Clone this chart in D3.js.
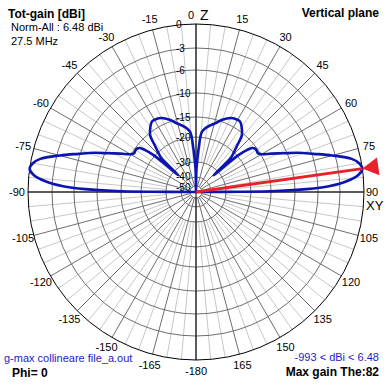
<!DOCTYPE html>
<html><head><meta charset="utf-8">
<script src="https://cdn.jsdelivr.net/npm/d3@7"></script>
<style>
body{margin:0;background:#fff}
svg{display:block}
text{font-family:"Liberation Sans",Arial,sans-serif}
</style>
</head><body>
<script>
// ---- data ----
const ringLevels = [0, -3, -6, -10, -15, -20, -30, -40, -50];
const ringLabels = ["0", "-3", "-6", "-10", "-15", "-20", "-30", "-40", "-50"];
const angleTicks = [0, 15, 30, 45, 60, 75, 90, 105, 120, 135, 150, 165, 180, -165, -150, -135, -120, -105, -90, -75, -60, -45, -30, -15];
const angleTickLabels = ["0", "15", "30", "45", "60", "75", "90", "105", "120", "135", "150", "165", "-180", "-165", "-150", "-135", "-120", "-105", "-90", "-75", "-60", "-45", "-30", "-15"];
// pattern (theta from zenith, deg) and normalized gain (dB), half plane; mirrored for negative theta
const patternTheta = [0, 1, 2, 3.5, 5.7, 10, 15.7, 20, 25, 29, 32, 35.5, 38.9, 41.6, 44, 45.6, 46.5, 47.7, 49.1, 50.5, 52, 54, 56, 58, 60, 63, 66, 69, 72, 75, 78, 80, 82, 84, 86, 87.5, 88.5, 89.3, 89.7, 90];
const patternGain = [-60, -36, -30, -24.4, -18.6, -17.2, -15.9, -14.6, -13.6, -13.3, -13.3, -14.2, -15.5, -18.3, -20.5, -22.5, -34, -28, -19.6, -17.3, -15.9, -15.4, -15.4, -15.5, -14.9, -13.0, -10.8, -8.2, -5.8, -3.4, -1.1, -0.3, 0, -0.6, -2.2, -4.5, -8, -14, -24, -60];
const maxTheta = 82;
const titleLines = ["Tot-gain [dBi]", "Norm-All : 6.48 dBi", "27.5 MHz"];
const planeLabel = "Vertical plane";
const fileLabel = "g-max collineare file_a.out";
const phiLabel = "Phi= 0";
const rangeLabel = "-993 < dBi < 6.48";
const maxLabel = "Max gain The:82";

// ---- layout ----
const W = 389, H = 389, cx = 196, cy = 192, R = 168;
const svg = d3.select("body").append("svg").attr("width", W).attr("height", H);

const r = d3.scaleLinear()
  .domain([-60, -50, -40, -30, -20, -15, -10, -6, -3, 0])
  .range([0, 6, 15, 30, 55, 75, 99, 122, 144, R])
  .clamp(true);
const rad = d => d * Math.PI / 180;
const px = (a, rr) => cx + rr * Math.sin(rad(a));
const py = (a, rr) => cy - rr * Math.cos(rad(a));

const g = svg.append("g");

// spokes every 5 deg
const spokes = d3.range(0, 360, 5);
g.selectAll("line.spoke").data(spokes).join("line")
  .attr("x1", d => px(d, d % 15 === 0 ? r(-50) : r(-30)))
  .attr("y1", d => py(d, d % 15 === 0 ? r(-50) : r(-30)))
  .attr("x2", d => px(d, R)).attr("y2", d => py(d, R))
  .attr("stroke", d => d % 15 === 0 ? "#6e6e6e" : "#c8c8c8")
  .attr("stroke-width", 1);

// rings
g.selectAll("circle.ring").data(ringLevels.slice(1)).join("circle")
  .attr("cx", cx).attr("cy", cy).attr("r", d => r(d))
  .attr("fill", "none").attr("stroke", "#6e6e6e").attr("stroke-width", 1);
g.append("circle").attr("cx", cx).attr("cy", cy).attr("r", R)
  .attr("fill", "none").attr("stroke", "#000").attr("stroke-width", 1);

// axes
g.append("line").attr("x1", cx).attr("y1", cy - R).attr("x2", cx).attr("y2", cy + R).attr("stroke", "#000");
g.append("line").attr("x1", cx - R).attr("y1", cy).attr("x2", cx + R).attr("y2", cy).attr("stroke", "#000");

// ring labels
g.selectAll("text.rl").data(ringLevels).join("text")
  .attr("x", 176).attr("y", d => cy - r(d) + (d <= -50 ? 5 : d <= -40 ? 2.5 : 4))
  .attr("font-size", 10).text((d, i) => ringLabels[i]);

// angle labels
angleTicks.forEach((a, i) => {
  let t;
  if (a === 0) {
    t = g.append("text").attr("x", 194).attr("y", 19).attr("text-anchor", "end");
  } else if (a === 90) {
    t = g.append("text").attr("x", 366).attr("y", 196);
  } else {
    t = g.append("text").attr("x", px(a, R + 11)).attr("y", py(a, R + 11))
      .attr("text-anchor", "middle").attr("dominant-baseline", "central");
  }
  t.attr("font-size", 11).text(angleTickLabels[i]);
});
g.append("text").attr("x", 200).attr("y", 20).attr("font-size", 14).text("Z");
g.append("text").attr("x", 366).attr("y", 210).attr("font-size", 13).text("XY");

// pattern
const pts = patternTheta.map((t, i) => ({t: -t, v: patternGain[i]})).reverse()
  .concat(patternTheta.map((t, i) => ({t: t, v: patternGain[i]})));
const line = d3.lineRadial().angle(d => rad(d.t)).radius(d => r(d.v)).curve(d3.curveCatmullRom.alpha(0.5));
g.append("path").attr("transform", `translate(${cx},${cy})`).attr("d", line(pts))
  .attr("fill", "none").attr("stroke", "#0c14b4").attr("stroke-width", 2.6).attr("stroke-linejoin", "round");

// max gain marker
g.append("line").attr("x1", cx).attr("y1", cy).attr("x2", px(maxTheta, R)).attr("y2", py(maxTheta, R))
  .attr("stroke", "#e8202a").attr("stroke-width", 3);
g.append("path")
  .attr("transform", `translate(${px(maxTheta, R)},${py(maxTheta, R)}) rotate(${maxTheta - 90})`)
  .attr("d", "M0,0 L16,-9 L16,9 Z").attr("fill", "#e8202a");

// texts
svg.append("text").attr("x", 8).attr("y", 18).attr("font-size", 12).attr("font-weight", "bold").text(titleLines[0]);
svg.append("text").attr("x", 11).attr("y", 31).attr("font-size", 11).text(titleLines[1]);
svg.append("text").attr("x", 11).attr("y", 45).attr("font-size", 11).text(titleLines[2]);
svg.append("text").attr("x", 379).attr("y", 17).attr("text-anchor", "end").attr("font-size", 12).attr("font-weight", "bold").text(planeLabel);
svg.append("text").attr("x", 4).attr("y", 362).attr("font-size", 11).attr("fill", "#1c1cc8").text(fileLabel);
svg.append("text").attr("x", 12).attr("y", 377).attr("font-size", 12).attr("font-weight", "bold").text(phiLabel);
svg.append("text").attr("x", 379).attr("y", 361).attr("text-anchor", "end").attr("font-size", 11).attr("fill", "#1c1cc8").text(rangeLabel);
svg.append("text").attr("x", 379).attr("y", 376).attr("text-anchor", "end").attr("font-size", 12).attr("font-weight", "bold").text(maxLabel);
</script>
</body></html>
